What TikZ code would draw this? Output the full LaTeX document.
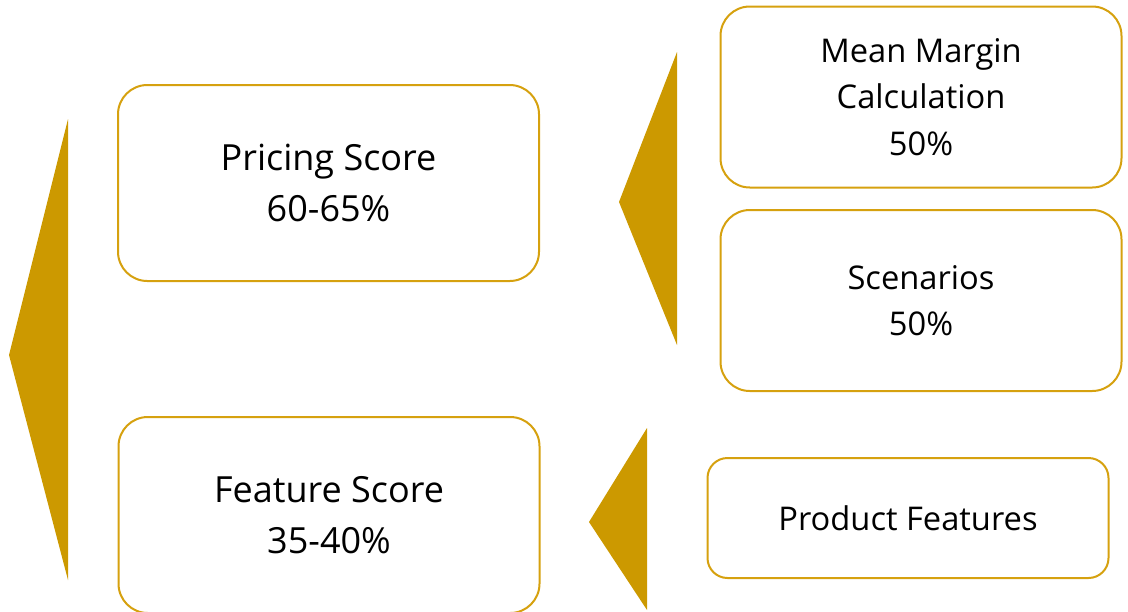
\documentclass[tikz,border=0pt]{standalone}
\usepackage{fontspec}
\setmainfont{Open Sans}
\definecolor{gold}{HTML}{CC9900}
\definecolor{goldline}{HTML}{D6A10F}
\begin{document}
\begin{tikzpicture}[x=0.75pt,y=-0.75pt]
    \useasboundingbox (0,0) rectangle (1128,611);
    \begin{scope}[every node/.style={draw=goldline,line width=1.5pt,fill=white,
        align=center,rounded corners=22pt,minimum width=315.75pt,minimum height=147pt,
        font=\fontsize{27}{38}\selectfont}]
      \node (pricing) at (328.5,183) {Pricing Score\\60-65\%};
      \node (feature) at (329,515) {Feature Score\\35-40\%};
    \end{scope}
    \begin{scope}[every node/.style={draw=goldline,line width=1.5pt,fill=white,
        align=center,rounded corners=22pt,minimum width=300.75pt,minimum height=135.75pt,
        font=\fontsize{24.5}{35}\selectfont}]
      \node (mean) at (921,97) {Mean Margin\\Calculation\\50\%};
      \node (scen) at (921,300.5) {Scenarios\\50\%};
      \node[rounded corners=15pt,minimum height=90pt] (prod) at (908,518) {Product Features};
    \end{scope}
    \begin{scope}[every path/.style={fill=gold}]
      \path (68,119) -- (9,355) -- (68,580) -- cycle;
      \path (677,52) -- (619,202) -- (677,345) -- cycle;
      \path (647,428) -- (589,522) -- (647,610) -- cycle;
    \end{scope}
  \end{tikzpicture}
\end{document}
